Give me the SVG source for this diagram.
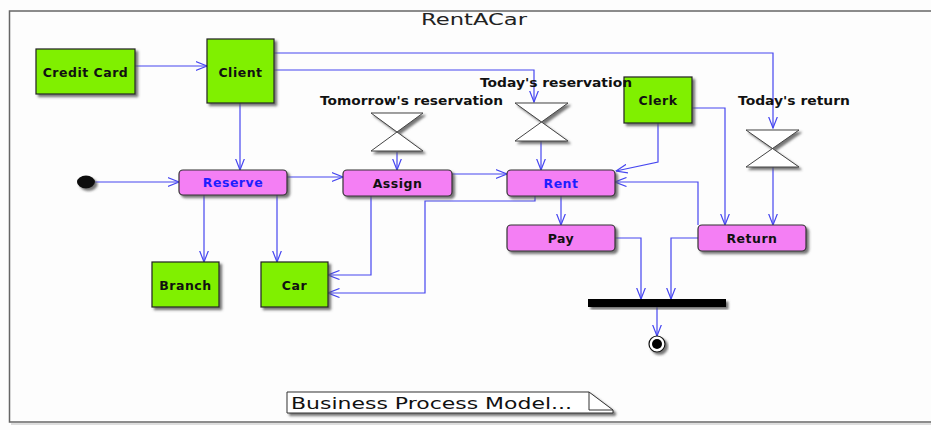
<svg xmlns="http://www.w3.org/2000/svg" width="931" height="430" viewBox="0 0 931 430">
  <defs>
    <marker id="open" viewBox="0 0 12 10" refX="11.5" refY="5" markerWidth="12" markerHeight="10" markerUnits="userSpaceOnUse" orient="auto">
      <path d="M0,0.5 L11.5,5 L0,9.5" fill="none" stroke="#4646f0" stroke-width="1.2"/>
    </marker>
    <filter id="shadow" x="-10%" y="-10%" width="130%" height="140%">
      <feDropShadow dx="2.5" dy="2.5" stdDeviation="0.8" flood-color="#555" flood-opacity="0.8"/>
    </filter>
  </defs>
  <style>
    .obj { fill: #80f000; stroke: #222; stroke-width: 1.2; filter: url(#shadow); }
    .act { fill: #f47ff4; stroke: #333; stroke-width: 1.2; filter: url(#shadow); }
    .lbl { font-family: "DejaVu Sans", Verdana, sans-serif; font-weight: bold; font-size: 12.5px; letter-spacing: 0.5px; text-anchor: middle; fill: #111; }
    .blue { fill: #1e1eff; }
    .evt { font-family: "DejaVu Sans", Verdana, sans-serif; font-weight: bold; font-size: 11.5px; fill: #111; }
    .glass { fill: #fff; stroke: #444; stroke-width: 1; }
    .conn path { fill: none; stroke: #4646f0; stroke-width: 1.2; marker-end: url(#open); }
  </style>

  <rect width="931" height="430" fill="#fdfdfd"/>

  <!-- frame -->
  <g id="frame">
    <path d="M931,11 H9.5 V422 H931" fill="none" stroke="#666" stroke-width="1.5"/>
    <path d="M11,424 H931" fill="none" stroke="#bbb" stroke-width="1"/>
    <text x="474" y="25" font-family="DejaVu Sans, Verdana, sans-serif" font-size="16" text-anchor="middle" fill="#222" textLength="106" lengthAdjust="spacingAndGlyphs">RentACar</text>
  </g>

  <!-- connectors -->
  <g id="connectors" class="conn">
    <path d="M135,66 H207"/>
    <path d="M274,53 H773 V128"/>
    <path d="M274,70 H534 V102"/>
    <path d="M240,103 V170"/>
    <path d="M95,182 H179"/>
    <path d="M204,195 V262"/>
    <path d="M277,195 V262"/>
    <path d="M287,177 H343"/>
    <path d="M397,152 V170"/>
    <path d="M452,174 H507"/>
    <path d="M541,141 V170"/>
    <path d="M658,123 V162 L616,171"/>
    <path d="M692,108 H725 V225"/>
    <path d="M773,167 V225"/>
    <path d="M698,225 V182 H615"/>
    <path d="M535,196 V201 H425 V293 H328"/>
    <path d="M371,196 V275 H328"/>
    <path d="M561,196 V225"/>
    <path d="M615,238 H641 V299"/>
    <path d="M698,238 H671 V299"/>
    <path d="M657,307 V336"/>
  </g>

  <!-- initial state -->
  <g id="start">
    <ellipse cx="86" cy="182" rx="9" ry="6.5" fill="#111" filter="url(#shadow)"/>
  </g>

  <!-- objects -->
  <g id="creditcard">
    <rect class="obj" x="36" y="49" width="99" height="45"/>
    <text class="lbl" x="85.5" y="76.5">Credit Card</text>
  </g>
  <g id="client">
    <rect class="obj" x="207" y="39" width="67" height="64"/>
    <text class="lbl" x="240.5" y="76.5">Client</text>
  </g>
  <g id="clerk">
    <rect class="obj" x="624" y="77" width="68" height="46"/>
    <text class="lbl" x="658" y="104.5">Clerk</text>
  </g>
  <g id="branch">
    <rect class="obj" x="152" y="262" width="67" height="45"/>
    <text class="lbl" x="185.5" y="289.5">Branch</text>
  </g>
  <g id="car">
    <rect class="obj" x="261" y="262" width="67" height="45"/>
    <text class="lbl" x="294.5" y="289.5">Car</text>
  </g>

  <!-- activities -->
  <g id="reserve">
    <rect class="act" x="179" y="170" width="108" height="25" rx="4"/>
    <text class="lbl blue" x="233" y="187">Reserve</text>
  </g>
  <g id="assign">
    <rect class="act" x="343" y="170" width="109" height="26" rx="4"/>
    <text class="lbl" x="397.5" y="187.5">Assign</text>
  </g>
  <g id="rent">
    <rect class="act" x="507" y="170" width="108" height="26" rx="4"/>
    <text class="lbl blue" x="561" y="187.5">Rent</text>
  </g>
  <g id="pay">
    <rect class="act" x="507" y="225" width="108" height="26" rx="4"/>
    <text class="lbl" x="561" y="242.5">Pay</text>
  </g>
  <g id="return">
    <rect class="act" x="698" y="225" width="108" height="26" rx="4"/>
    <text class="lbl" x="752" y="242.5">Return</text>
  </g>

  <!-- time events -->
  <g id="tomorrow">
    <path class="glass" d="M371,113 H423 L371,151 H423 Z" filter="url(#shadow)"/>
    <text class="evt" x="320" y="105" textLength="183" lengthAdjust="spacingAndGlyphs">Tomorrow's reservation</text>
  </g>
  <g id="todayres">
    <path class="glass" d="M515,103 H568 L515,141 H568 Z" filter="url(#shadow)"/>
    <text class="evt" x="480" y="87" textLength="152" lengthAdjust="spacingAndGlyphs">Today's reservation</text>
  </g>
  <g id="todayret">
    <path class="glass" d="M746,130 H799 L746,167 H799 Z" filter="url(#shadow)"/>
    <text class="evt" x="738" y="105" textLength="112" lengthAdjust="spacingAndGlyphs">Today's return</text>
  </g>

  <!-- join bar -->
  <g id="join">
    <rect x="588" y="299" width="138" height="8" fill="#000" filter="url(#shadow)"/>
  </g>

  <!-- final state -->
  <g id="end">
    <circle cx="657" cy="344" r="8" fill="#fff" stroke="#111" stroke-width="1.2" filter="url(#shadow)"/>
    <circle cx="657" cy="344" r="5" fill="#000"/>
  </g>

  <!-- note -->
  <g id="note">
    <path d="M287,392 H589 L613,410 V413 H287 Z" fill="#fff" stroke="#333" stroke-width="1" filter="url(#shadow)"/>
    <path d="M589,392 V410 H613" fill="none" stroke="#333" stroke-width="1"/>
    <text x="291" y="409" font-family="DejaVu Sans, Verdana, sans-serif" font-size="15" fill="#111" textLength="281" lengthAdjust="spacingAndGlyphs">Business Process Model...</text>
  </g>
</svg>
